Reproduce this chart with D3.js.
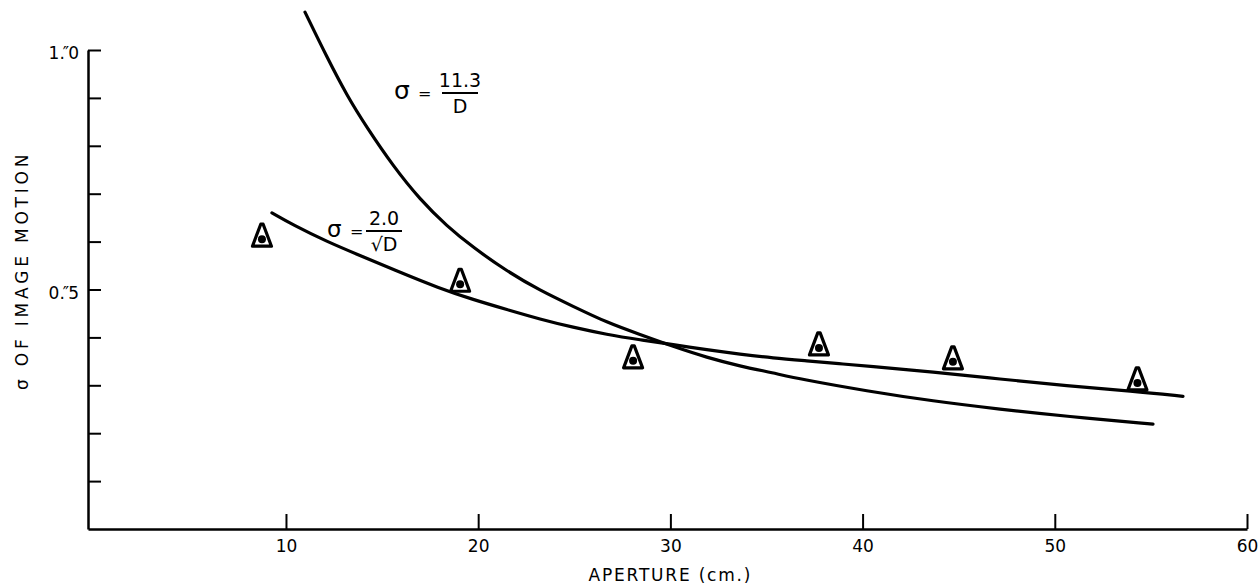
<!DOCTYPE html>
<html>
<head>
<meta charset="utf-8">
<script src="https://cdn.jsdelivr.net/npm/d3@7"></script>
<style>
  html, body { margin: 0; padding: 0; background: #fff; }
  svg { display: block; }
  text { font-family: "DejaVu Sans", "Liberation Sans", sans-serif; fill: #000; }
</style>
</head>
<body>
<svg id="chart" width="1260" height="587"></svg>
<script>
// ---- data ----
const xTicks = [10, 20, 30, 40, 50, 60];
const yTicks = [0.1, 0.2, 0.3, 0.4, 0.5, 0.6, 0.7, 0.8, 0.9, 1.0];
const yTickLabels = { "0.5": ["0", "5"], "1": ["1", "0"] };

// curve sigma = 11.3 / D (as drawn)
const curveAD     = [10.99, 12.13, 13.17, 14.21, 15.57, 16.97, 18.38, 19.73, 21.50, 23.22, 24.93, 26.70, 28.42, 30.14, 31.90, 33.62, 35.34, 36.74, 40.23, 43.66, 47.15, 50.63, 55.11];
const curveASigma = [1.079, 0.985, 0.905, 0.838, 0.758, 0.688, 0.632, 0.588, 0.538, 0.498, 0.465, 0.431, 0.406, 0.381, 0.358, 0.340, 0.326, 0.313, 0.288, 0.267, 0.250, 0.235, 0.219];

// curve sigma = 2.0 / sqrt(D) (as drawn)
const curveBD     = [9.27, 10.36, 12.13, 13.85, 15.57, 18.01, 19.73, 21.50, 23.22, 24.93, 26.70, 28.42, 30.14, 31.90, 33.62, 35.34, 37.10, 38.82, 40.23, 43.66, 47.15, 50.63, 54.06, 56.67];
const curveBSigma = [0.660, 0.635, 0.600, 0.571, 0.542, 0.502, 0.479, 0.458, 0.438, 0.421, 0.406, 0.395, 0.385, 0.374, 0.365, 0.357, 0.351, 0.345, 0.340, 0.328, 0.313, 0.299, 0.288, 0.277];

// observed points (triangle markers)
const markerD     = [8.75, 19.06, 28.06, 37.73, 44.70, 54.30];
const markerSigma = [0.605, 0.511, 0.351, 0.378, 0.349, 0.305];

// ---- drawing ----
const svg = d3.select("#chart");
const x = d3.scaleLinear().domain([-0.3, 60]).range([88, 1247]);
const y = d3.scaleLinear().domain([0, 1]).range([529, 50]);

// x axis
const gx = svg.append("g").attr("transform", `translate(0,${y(0)})`)
  .call(d3.axisBottom(x).tickValues(xTicks).tickSize(-15).tickSizeOuter(0).tickPadding(9).tickFormat(d3.format("d")));
gx.select(".domain").attr("stroke-width", 2.5);
gx.selectAll(".tick line").attr("stroke-width", 2);
gx.selectAll(".tick text").style("font-size", "17px").style("font-family", "DejaVu Sans").attr("dy", "0.85em");

// y axis
const gy = svg.append("g").attr("transform", `translate(${x(-0.3)},0)`)
  .call(d3.axisLeft(y).tickValues(yTicks).tickSize(-13).tickSizeOuter(0).tickPadding(9).tickFormat(() => ""));
gy.select(".domain").attr("stroke-width", 2.5);
gy.selectAll(".tick line").attr("stroke-width", 2);
gy.selectAll(".tick text").each(function(d) {
  const key = String(+d.toFixed(1));
  const parts = yTickLabels[key];
  if (!parts) return;
  const t = d3.select(this).style("font-size", "17px").style("font-family", "DejaVu Sans").attr("dy", "0.5em");
  t.append("tspan").text(parts[0]);
  t.append("tspan").text(".");
  t.append("tspan").attr("dx", "-2").text("\u2033");
  t.append("tspan").attr("dx", "-1").text(parts[1]);
});

// axis titles
svg.append("text")
  .attr("x", x(30)).attr("y", 581)
  .attr("text-anchor", "middle")
  .style("font-size", "17px").style("letter-spacing", "1.8px")
  .text("APERTURE (cm.)");

svg.append("text")
  .attr("transform", `translate(28,${y(0.54)}) rotate(-90)`)
  .attr("text-anchor", "middle")
  .style("font-size", "17px").style("letter-spacing", "3.8px")
  .text("\u03C3 OF IMAGE MOTION");

// curves
const line = d3.line().x(d => x(d[0])).y(d => y(d[1])).curve(d3.curveBasis);
const curveA = curveAD.map((d, i) => [d, curveASigma[i]]);
const curveB = curveBD.map((d, i) => [d, curveBSigma[i]]);
svg.append("path").datum(curveA).attr("d", line)
  .attr("fill", "none").attr("stroke", "#000").attr("stroke-width", 3.2).attr("stroke-linecap", "round");
svg.append("path").datum(curveB).attr("d", line)
  .attr("fill", "none").attr("stroke", "#000").attr("stroke-width", 3.2).attr("stroke-linecap", "round");

// markers
const markers = svg.append("g").selectAll("g")
  .data(markerD.map((d, i) => [d, markerSigma[i]]))
  .join("g")
  .attr("transform", d => `translate(${x(d[0])},${y(d[1])})`);
markers.append("path")
  .attr("d", "M-1.2,-15 L1.2,-15 L9.5,7 L-9.5,7 Z")
  .attr("fill", "#fff").attr("stroke", "#000").attr("stroke-width", 3.2).attr("stroke-linejoin", "round");
markers.append("circle").attr("r", 4).attr("fill", "#000");

// formula annotations
function formula(cx, cy, num, den, sigX, eqX, sigSize, numSize) {
  const g = svg.append("g").attr("transform", `translate(${cx},${cy})`);
  g.append("text").attr("x", sigX).attr("y", 6).style("font-size", sigSize + "px").text("\u03C3");
  g.append("text").attr("x", eqX).attr("y", 6).style("font-size", "16px").text("=");
  g.append("line").attr("x1", -18).attr("x2", 18).attr("y1", 0).attr("y2", 0)
    .attr("stroke", "#000").attr("stroke-width", 2);
  g.append("text").attr("x", 0).attr("y", -6).attr("text-anchor", "middle").style("font-size", numSize + "px").text(num);
  g.append("text").attr("x", 0).attr("y", 20).attr("text-anchor", "middle").style("font-size", numSize + "px").text(den);
}
formula(460, 93, "11.3", "D", -66, -42, 25, 19);
formula(384, 231, "2.0", "\u221AD", -57, -34, 23, 19);
</script>
</body>
</html>
